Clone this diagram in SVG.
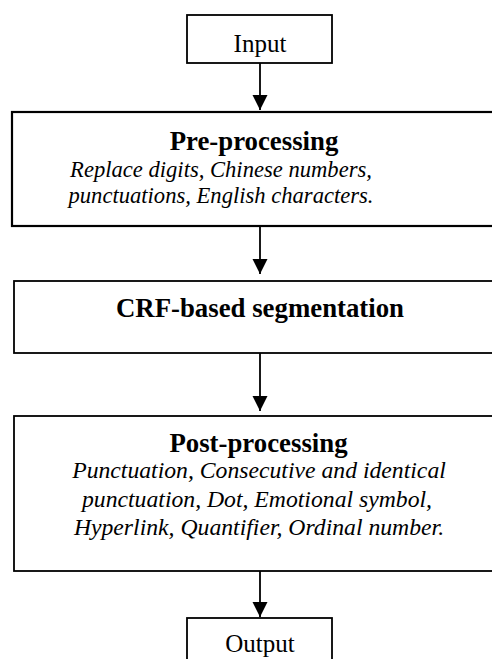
<svg xmlns="http://www.w3.org/2000/svg" width="492" height="659" viewBox="0 0 492 659">
<defs>
<marker id="arr" markerUnits="userSpaceOnUse" markerWidth="16" markerHeight="16" viewBox="0 0 16 16" refX="15" refY="8" orient="auto">
<path d="M0,0.5 L15,8 L0,15.5 Z" fill="#000"/>
</marker>
</defs>
<style>
.box{fill:#fff;stroke:#000;stroke-width:1.8}
.t{font-family:"Liberation Serif","Times New Roman",serif;fill:#000;text-anchor:middle}
.b{font-weight:bold;font-size:26.8px}
.i{font-style:italic;font-size:22.6px}
.i2{font-style:italic;font-size:23.7px}
.n{font-size:25px}
.c{stroke:#000;stroke-width:1.8;fill:none;marker-end:url(#arr)}
</style>
<g id="connectors">
<line class="c" x1="260" y1="63" x2="260" y2="110"/>
<line class="c" x1="260" y1="227" x2="260" y2="274"/>
<line class="c" x1="260" y1="353" x2="260" y2="411"/>
<line class="c" x1="260" y1="571" x2="260" y2="617"/>
</g>
<g id="input">
<rect class="box" x="187" y="15" width="145" height="48"/>
<text class="t n" x="260" y="52">Input</text>
</g>
<g id="preprocessing">
<rect class="box" x="12" y="112" width="500" height="114" style="stroke-width:2.2"/>
<text class="t b" x="254" y="150">Pre-processing</text>
<text class="t i" x="221" y="177">Replace digits, Chinese numbers,</text>
<text class="t i" x="221" y="203">punctuations, English characters.</text>
</g>
<g id="crf">
<rect class="box" x="14" y="281" width="500" height="72"/>
<text class="t b" x="260" y="317">CRF-based segmentation</text>
</g>
<g id="postprocessing">
<rect class="box" x="14" y="416" width="500" height="155"/>
<text class="t b" x="258.5" y="452">Post-processing</text>
<text class="t i2" x="259" y="478">Punctuation, Consecutive and identical</text>
<text class="t i2" x="257" y="507">punctuation, Dot, Emotional symbol,</text>
<text class="t i2" x="259" y="535">Hyperlink, Quantifier, Ordinal number.</text>
</g>
<g id="output">
<rect class="box" x="187" y="618" width="145" height="60"/>
<text class="t n" x="260" y="652">Output</text>
</g>
</svg>
